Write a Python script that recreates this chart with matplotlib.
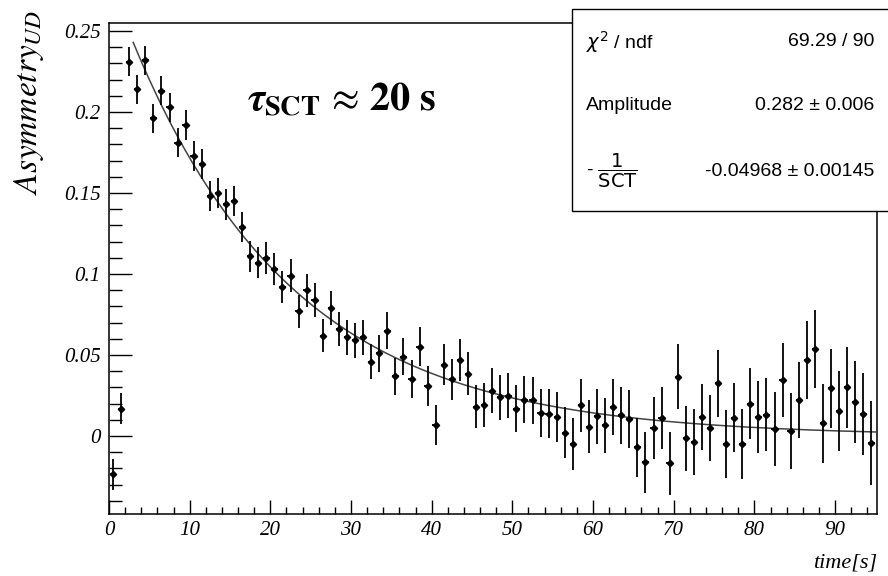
import numpy as np
import matplotlib
matplotlib.use("Agg")
import matplotlib.pyplot as plt
from matplotlib.patches import Rectangle
from matplotlib.ticker import MultipleLocator, FuncFormatter

# ---- data ----
time = np.arange(0.5, 95.0, 1.0)
asymmetry = [
    -0.0235, 0.0169, 0.231, 0.214, 0.232, 0.196, 0.213, 0.203, 0.181, 0.192,
    0.173, 0.168, 0.148, 0.150, 0.143, 0.145, 0.129, 0.111, 0.107, 0.110,
    0.103, 0.092, 0.099, 0.077, 0.090, 0.084, 0.062, 0.079, 0.066, 0.061,
    0.059, 0.061, 0.046, 0.051, 0.065, 0.037, 0.049, 0.035, 0.055, 0.031,
    0.007, 0.044, 0.035, 0.047, 0.0385, 0.018, 0.019, 0.028, 0.024, 0.025,
    0.017, 0.0225, 0.022, 0.0144, 0.0138, 0.0118, 0.002, -0.0047, 0.019, 0.0058,
    0.0121, 0.0066, 0.0181, 0.0128, 0.0105, -0.007, -0.0163, 0.0049, 0.0111, -0.0168,
    0.0367, -0.0013, -0.0037, 0.0115, 0.0051, 0.0325, -0.0051, 0.0113, -0.0051, 0.020,
    0.0119, 0.0132, 0.0045, 0.0346, 0.0029, 0.0222, 0.0469, 0.0537, 0.0078, 0.0294,
    0.0154, 0.030, 0.0212, 0.0136, -0.0041,
]
asym_err = [
    0.0096, 0.0095, 0.0088, 0.0088, 0.0089, 0.0089, 0.0090, 0.0090, 0.0091, 0.0091,
    0.0092, 0.0092, 0.0093, 0.0093, 0.0094, 0.0094, 0.0095, 0.0095, 0.0096, 0.0097,
    0.0098, 0.0099, 0.0100, 0.0101, 0.0102, 0.0103, 0.0104, 0.0105, 0.0106, 0.0107,
    0.0108, 0.0109, 0.0110, 0.0112, 0.0113, 0.0114, 0.0116, 0.0118, 0.0120, 0.0122,
    0.0124, 0.0125, 0.0127, 0.0129, 0.0131, 0.0133, 0.0135, 0.0137, 0.0139, 0.0141,
    0.0143, 0.0145, 0.0147, 0.0149, 0.0151, 0.0154, 0.0157, 0.0160, 0.0162, 0.0165,
    0.0168, 0.0171, 0.0174, 0.0177, 0.0180, 0.0183, 0.0186, 0.0189, 0.0192, 0.0195,
    0.0198, 0.0200, 0.0202, 0.0204, 0.0205, 0.0207, 0.0210, 0.0213, 0.0216, 0.0219,
    0.0222, 0.0225, 0.0228, 0.0231, 0.0234, 0.0236, 0.0238, 0.0240, 0.0242, 0.0244,
    0.0247, 0.0250, 0.0253, 0.0256, 0.0259,
]
fit_amplitude = 0.282
fit_slope = -0.04968
fit_range = (3.0, 95.0)

x_ticks = [0, 10, 20, 30, 40, 50, 60, 70, 80, 90]
y_ticks = [0, 0.05, 0.1, 0.15, 0.2, 0.25]

stats_labels = [r"$\chi^{2}$ / ndf", "Amplitude", r"- $\dfrac{1}{\mathrm{SCT}}$"]
stats_values = ["69.29 / 90", "0.282 \u00b1 0.006", "-0.04968 \u00b1 0.00145"]

# ---- figure ----
plt.rcParams["mathtext.fontset"] = "stix"
serif = "Liberation Serif"
sans = "Liberation Sans"

fig = plt.figure(figsize=(8.88, 5.76), dpi=100)
ax = fig.add_axes([109 / 888, 1 - 514 / 576, (877 - 109) / 888, (514 - 22.5) / 576])

ax.errorbar(time, asymmetry, yerr=asym_err, xerr=0.4, fmt="D", color="black",
            markersize=3.2, elinewidth=1.3, capsize=0, zorder=3)

tf = np.linspace(fit_range[0], fit_range[1], 400)
ax.plot(tf, fit_amplitude * np.exp(fit_slope * tf), color="#444444", lw=1.1, zorder=2)

ax.set_xlim(0, 95.2)
ax.set_ylim(-0.0481, 0.2552)
ax.set_xticks(x_ticks)
ax.set_yticks(y_ticks)
ax.xaxis.set_minor_locator(MultipleLocator(2))
ax.yaxis.set_minor_locator(MultipleLocator(0.01))
ax.yaxis.set_major_formatter(FuncFormatter(lambda v, p: "%g" % v))
ax.tick_params(axis="y", which="major", direction="in", length=16.5, width=1.0, pad=6)
ax.tick_params(axis="y", which="minor", direction="in", length=9, width=1.0)
ax.tick_params(axis="x", which="major", direction="in", length=10, width=1.0, pad=5)
ax.tick_params(axis="x", which="minor", direction="in", length=5, width=1.0)
for lab in ax.get_xticklabels() + ax.get_yticklabels():
    lab.set_fontfamily(serif)
    lab.set_fontstyle("italic")
    lab.set_fontsize(15)
for s in ax.spines.values():
    s.set_linewidth(1.1)

ax.text(1.0, -0.08, "time[s]", transform=ax.transAxes, ha="right", va="top",
        fontsize=16, family=serif, style="italic")
fig.text(29 / 888, 1 - 10 / 576, r"$Asymmetry_{UD}$", rotation=90, ha="center", va="top",
         fontsize=24)

ax.text(17.1, 0.201, r"$\boldsymbol{\tau}_{\mathbf{SCT}}\,\approx\,\mathbf{20\ s}$",
        fontsize=29, ha="left", va="baseline", zorder=4)

# stats box
fig.patches.append(Rectangle((572 / 888, 1 - 211 / 576), (892 - 572) / 888, (211 - 9) / 576,
                             transform=fig.transFigure, facecolor="white",
                             edgecolor="black", lw=1.0, zorder=5))
rows_y = [1 - 42 / 576, 1 - 106 / 576, 1 - 171 / 576]
for lab, val, yy in zip(stats_labels, stats_values, rows_y):
    fig.text(586 / 888, yy, lab, ha="left", va="center", fontsize=14, family=sans,
             math_fontfamily="dejavusans", zorder=6)
    fig.text(874 / 888, yy, val, ha="right", va="center", fontsize=14, family=sans, zorder=6)

fig.savefig("out.png", dpi=100)
